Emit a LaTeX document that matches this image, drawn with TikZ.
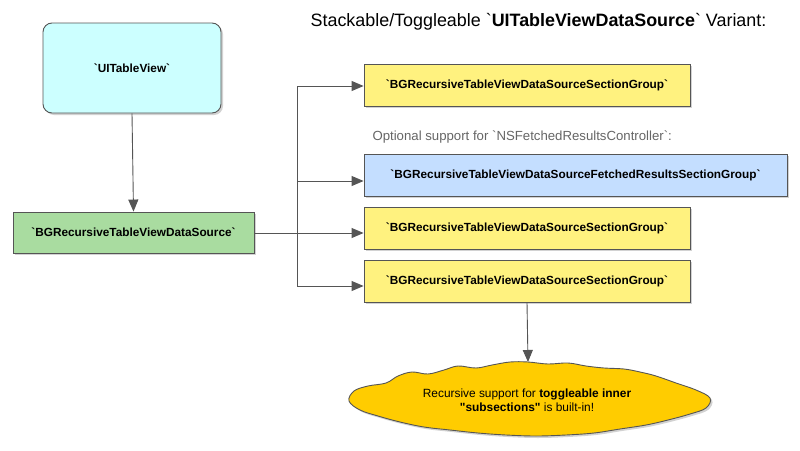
\documentclass[tikz,border=0pt]{standalone}
\usepackage{fontspec}
\setmainfont{Liberation Sans}[Ligatures=TeXOff]
\usetikzlibrary{arrows.meta,shadows}
\definecolor{edge}{HTML}{555555}
\definecolor{cyanfill}{HTML}{CCFFFF}
\definecolor{greenfill}{HTML}{A9DCA0}
\definecolor{yellowfill}{HTML}{FFF27F}
\definecolor{bluefill}{HTML}{C4DEFF}
\definecolor{cloudfill}{HTML}{FFCC00}
\tikzset{
  box/.style={draw=edge, line width=0.9pt, font=\fontsize{11.8}{13}\selectfont\bfseries,
    inner sep=0pt, drop shadow={shadow xshift=2pt, shadow yshift=-2pt, opacity=0.35}},
  conn/.style={draw=edge, line width=0.9pt},
  arr/.style={conn, -{Triangle[length=12pt,width=10pt]}},
}
\begin{document}
\begin{tikzpicture}[x=1pt,y=-1pt]
\path[use as bounding box, fill=white] (0,0) rectangle (800,450);

\node[font=\fontsize{17.9}{20}\selectfont, anchor=center] (title) at (538.5,22)
  {Stackable/Toggleable `\textbf{UITableViewDataSource}` Variant:};

\node[box, fill=cyanfill, rounded corners=9pt, minimum width=178pt, minimum height=90pt] (uitv) at (132,68) {`UITableView`};
\node[box, fill=greenfill, minimum width=241pt, minimum height=41pt] (ds) at (133.5,232.5) {`BGRecursiveTableViewDataSource`};

\node[box, fill=yellowfill, minimum width=326pt, minimum height=42pt] (g1) at (527,85) {`BGRecursiveTableViewDataSourceSectionGroup`};
\node[font=\fontsize{13.2}{15}\selectfont, text=edge!90, anchor=west] (opt) at (369,137) {Optional support for `NSFetchedResultsController`:};
\node[box, fill=bluefill, minimum width=423pt, minimum height=42pt] (fg) at (575.5,175) {`BGRecursiveTableViewDataSourceFetchedResultsSectionGroup`};
\node[box, fill=yellowfill, minimum width=326pt, minimum height=42pt] (g3) at (527,228) {`BGRecursiveTableViewDataSourceSectionGroup`};
\node[box, fill=yellowfill, minimum width=326pt, minimum height=42pt] (g4) at (527,281) {`BGRecursiveTableViewDataSourceSectionGroup`};

% cloud
\coordinate (cloudtop) at (528,362);
\path[draw=edge, line width=0.9pt, fill=cloudfill, drop shadow={shadow xshift=2pt, shadow yshift=-2pt, opacity=0.35}]
  plot[smooth cycle, tension=0.6] coordinates {
   (349,401) (354,391) (368,386) (386,383) (398,376) (412,372) (428,374) (444,370) (458,366)
   (476,368) (492,365) (510,362) (528,362) (548,364) (568,363) (586,366) (604,368) (624,369) (640,372)
   (656,376) (676,383) (696,390) (710,398) (706,408) (690,414) (668,420) (646,425)
   (620,429) (594,433) (566,435) (536,436) (506,435) (478,433) (450,430) (424,427)
   (400,422) (378,416) (360,410)};
\node[font=\fontsize{11.9}{14.5}\selectfont, align=center] (cloud) at (527,400)
  {Recursive support for \textbf{toggleable inner}\\\textbf{"subsections"} is built-in!};

% connectors
\draw[arr] (uitv.south) -- (ds.north);
\coordinate (trunkTop) at (297,86);
\coordinate (trunkBot) at (297,286);
\draw[conn] (trunkTop) -- (trunkBot);
\draw[arr] (trunkTop) -- (trunkTop -| g1.west);
\draw[arr] (297,181) -- (297,181 -| fg.west);
\draw[arr] (ds.east |- 0,233) -- (g3.west |- 0,233);
\draw[arr] (trunkBot) -- (trunkBot -| g4.west);
\draw[arr] (g4.south) -- (cloudtop);
\end{tikzpicture}
\end{document}
